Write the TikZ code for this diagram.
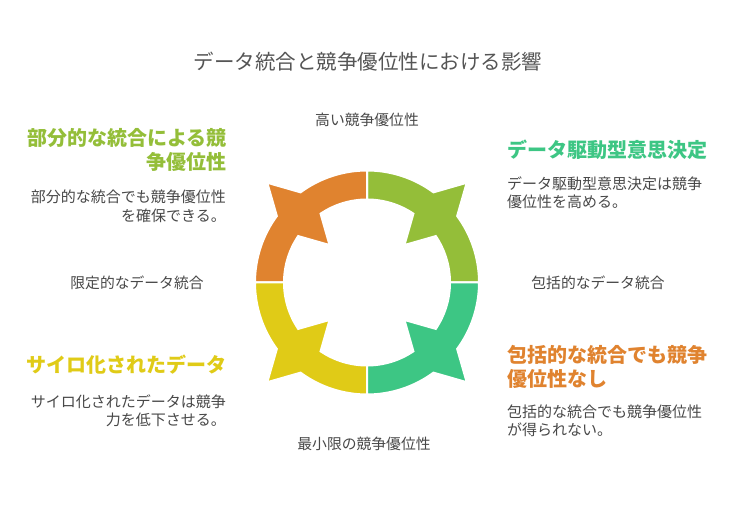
\documentclass[tikz,border=0pt]{standalone}
\usepackage{fontspec}
\setmainfont{Noto Sans CJK JP}
\definecolor{cOrange}{HTML}{E0832F}
\definecolor{cLime}{HTML}{94BE39}
\definecolor{cGreen}{HTML}{3DC684}
\definecolor{cYellow}{HTML}{E0CB17}
\definecolor{cTitle}{HTML}{555555}
\definecolor{cText}{HTML}{484848}
\tikzset{
  seg/.style={draw=white, line width=2pt},
  titletext/.style={inner sep=0pt, text=cTitle, font=\fontsize{20.5}{24}\selectfont},
  axistext/.style={inner sep=0pt, text=cText, font=\fontsize{14.8}{18}\selectfont},
  headtext/.style={inner sep=0pt, font=\fontsize{20}{24}\selectfont\bfseries},
  bodytext/.style={inner sep=0pt, text=cText, font=\fontsize{15}{18.5}\selectfont},
}
% #1 start angle, #2 mid angle, #3 end angle, #4 colour
\newcommand{\ringseg}[4]{%
  \path[seg, fill=#4]
    (#1:112pt) arc[start angle=#1, end angle=#2-8.6, radius=112pt]
    -- (#2:141pt)
    -- (#2+8.6:112pt) arc[start angle=#2+8.6, end angle=#3, radius=112pt]
    -- (#3:83pt) arc[start angle=#3, end angle=#2+11, radius=83pt]
    -- (#2:53pt)
    -- (#2-11:83pt) arc[start angle=#2-11, end angle=#1, radius=83pt]
    -- cycle;}
\begin{document}
\begin{tikzpicture}[x=1pt,y=1pt]
\useasboundingbox (0,0) rectangle (735,518);
\fill[white] (0,0) rectangle (735,518);

\begin{scope}[shift={(367,235.5)}]
  \ringseg{0}{45}{90}{cLime}
  \ringseg{90}{135}{180}{cOrange}
  \ringseg{180}{225}{270}{cYellow}
  \ringseg{270}{315}{360}{cGreen}
\end{scope}

\node[titletext] (title) at (368,456) {データ統合と競争優位性における影響};

\node[axistext] (top) at (367,398) {高い競争優位性};
\node[axistext] (bottom) at (364,74) {最小限の競争優位性};
\node[axistext] (left) at (137,235) {限定的なデータ統合};
\node[axistext] (right) at (598,235) {包括的なデータ統合};

\node[headtext, text=cLime, anchor=east, align=right] (h1) at (227,368) {部分的な統合による競\\争優位性};
\node[bodytext, anchor=east, align=right] (b1) at (226,311.5) {部分的な統合でも競争優位性\\を確保できる。};

\node[headtext, text=cGreen, anchor=west, align=left] (h2) at (507,368) {データ駆動型意思決定};
\node[bodytext, anchor=west, align=left] (b2) at (507,325.5) {データ駆動型意思決定は競争\\優位性を高める。};

\node[headtext, text=cOrange, anchor=west, align=left] (h3) at (507,151.5) {包括的な統合でも競争\\優位性なし};
\node[bodytext, anchor=west, align=left] (b3) at (507,97) {包括的な統合でも競争優位性\\が得られない。};

\node[headtext, text=cYellow, anchor=east, align=right] (h4) at (227,153) {サイロ化されたデータ};
\node[bodytext, anchor=east, align=right] (b4) at (226,107.5) {サイロ化されたデータは競争\\力を低下させる。};
\end{tikzpicture}
\end{document}
